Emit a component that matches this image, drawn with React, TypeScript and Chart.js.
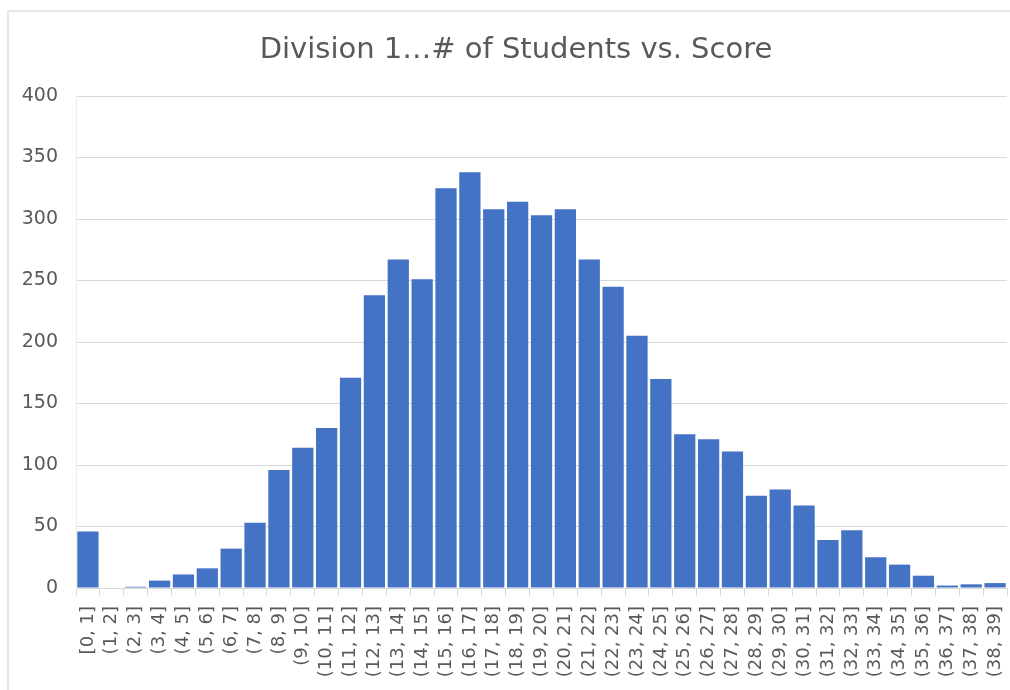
import React, { useEffect, useRef } from "react";
import { Chart, registerables } from "chart.js";

Chart.register(...registerables);

const TITLE = "Division 1…# of Students vs. Score";

const categories: string[] = [
  "[0, 1]", "(1, 2]", "(2, 3]", "(3, 4]", "(4, 5]", "(5, 6]", "(6, 7]", "(7, 8]",
  "(8, 9]", "(9, 10]", "(10, 11]", "(11, 12]", "(12, 13]", "(13, 14]", "(14, 15]",
  "(15, 16]", "(16, 17]", "(17, 18]", "(18, 19]", "(19, 20]", "(20, 21]", "(21, 22]",
  "(22, 23]", "(23, 24]", "(24, 25]", "(25, 26]", "(26, 27]", "(27, 28]", "(28, 29]",
  "(29, 30]", "(30, 31]", "(31, 32]", "(32, 33]", "(33, 34]", "(34, 35]", "(35, 36]",
  "(36, 37]", "(37, 38]", "(38, 39]",
];

const students: number[] = [
  46, 0, 1, 6, 11, 16, 32, 53, 96, 114, 130, 171, 238, 267, 251, 325, 338, 308, 314,
  303, 308, 267, 245, 205, 170, 125, 121, 111, 75, 80, 67, 39, 47, 25, 19, 10, 2, 3, 4,
];

const yTicks: number[] = [0, 50, 100, 150, 200, 250, 300, 350, 400];

const FONT = "'DejaVu Sans', sans-serif";
const TEXT = "#595959";
const GRID = "#d9d9d9";

const titlePlugin = {
  id: "excelTitle",
  afterDraw(chart: any) {
    const ctx = chart.ctx;
    ctx.save();
    ctx.font = `29px ${FONT}`;
    ctx.fillStyle = TEXT;
    ctx.textAlign = "center";
    ctx.textBaseline = "alphabetic";
    ctx.fillText(TITLE, 516, 58);
    ctx.restore();
  },
};

export default function App() {
  const ref = useRef<HTMLCanvasElement | null>(null);

  useEffect(() => {
    if (!ref.current) return;
    const chart = new Chart(ref.current, {
      type: "bar",
      data: {
        labels: categories,
        datasets: [
          {
            label: "# of Students",
            data: students,
            backgroundColor: "#4472C4",
            borderWidth: 0,
            categoryPercentage: 1,
            barPercentage: 0.89,
          },
        ],
      },
      options: {
        responsive: false,
        animation: false,
        layout: { padding: { top: 96, left: 0, right: 3, bottom: 0 } },
        plugins: {
          legend: { display: false },
          title: { display: false },
          tooltip: { enabled: false },
        },
        scales: {
          x: {
            offset: true,
            grid: {
              display: true,
              offset: true,
              drawOnChartArea: false,
              drawTicks: true,
              tickLength: 8,
              color: GRID,
            },
            border: { display: true, color: GRID },
            ticks: {
              autoSkip: false,
              minRotation: 90,
              maxRotation: 90,
              padding: 10,
              color: TEXT,
              font: { family: FONT, size: 18 },
            },
            afterFit(scale: any) {
              scale.height = 102;
              scale.paddingLeft = 0;
              scale.paddingRight = 0;
            },
          },
          y: {
            min: 0,
            max: 400,
            afterBuildTicks(scale: any) {
              scale.ticks = yTicks.map((v) => ({ value: v }));
            },
            grid: { color: GRID, drawTicks: false },
            border: { display: true, color: "#ececec" },
            ticks: {
              padding: 18,
              color: TEXT,
              font: { family: FONT, size: 19 },
            },
            afterFit(scale: any) {
              scale.width = 76;
              scale.paddingTop = 0;
              scale.paddingBottom = 0;
            },
          },
        },
      },
      plugins: [titlePlugin],
    });
    return () => chart.destroy();
  }, []);

  return (
    <div style={{ position: "fixed", left: 0, top: 0, width: 1010, height: 690, background: "#ffffff", overflow: "hidden" }}>
      <canvas ref={ref} width={1010} height={690} style={{ position: "absolute", left: 0, top: 0 }} />
      <div
        style={{
          position: "absolute",
          left: 7,
          top: 10,
          width: 1003,
          height: 680,
          borderTop: "2px solid #e6e6e6",
          borderLeft: "2px solid #e6e6e6",
          pointerEvents: "none",
        }}
      />
    </div>
  );
}
